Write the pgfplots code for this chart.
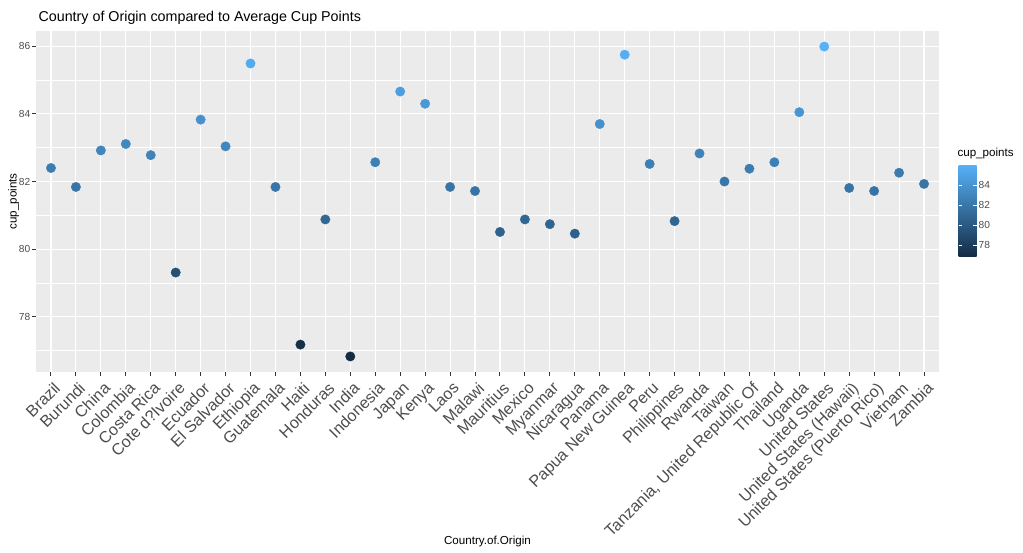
\documentclass[border=0pt]{standalone}
\usepackage{pgfplots}
\pgfplotsset{compat=1.18}
\usepackage{pgfplotstable}
\usepackage{fontspec}
\setmainfont{Liberation Sans}
\pgfkeys{/pgf/number format/assume math mode=true}

\definecolor{panelbg}{HTML}{EBEBEB}
\definecolor{ticklab}{HTML}{4D4D4D}
\definecolor{tickcol}{HTML}{333333}

% average cup points per country (x = category index)
\pgfplotstableread[col sep=comma]{
x,y
0,82.40
1,81.84
2,82.92
3,83.11
4,82.78
5,79.31
6,83.83
7,83.04
8,85.49
9,81.84
10,77.18
11,80.88
12,76.83
13,82.57
14,84.66
15,84.30
16,81.84
17,81.72
18,80.51
19,80.88
20,80.74
21,80.46
22,83.70
23,85.75
24,82.52
25,80.83
26,82.83
27,82.00
28,82.38
29,82.57
30,84.05
31,85.99
32,81.81
33,81.72
34,82.26
35,81.93
}\cupdata

\begin{document}
\begin{tikzpicture}
\path[use as bounding box] (0,0) rectangle (1023pt,-553pt);
\begin{axis}[%
  scale only axis,%
  width=903pt, height=341pt,%
  at={(36pt,-31pt)}, anchor=north west,%
  xmin=-0.6, xmax=35.6,%
  ymin=76.37, ymax=86.45,%
  xtick={0,1,...,35},%
  xticklabels={Brazil,Burundi,China,Colombia,Costa Rica,Cote d?Ivoire,Ecuador,El Salvador,Ethiopia,Guatemala,Haiti,Honduras,India,Indonesia,Japan,Kenya,Laos,Malawi,Mauritius,Mexico,Myanmar,Nicaragua,Panama,Papua New Guinea,Peru,Philippines,Rwanda,Taiwan,{Tanzania, United Republic Of},Thailand,Uganda,United States,United States (Hawaii),United States (Puerto Rico),Vietnam,Zambia},%
  ytick={78,80,82,84,86},%
  minor ytick={77,79,81,83,85},%
  grid=both,%
  major grid style={white, line width=1.1pt},%
  minor grid style={white, line width=0.55pt},%
  axis background/.style={fill=panelbg},%
  axis line style={draw=none},%
  tick style={tickcol, line width=1pt},%
  tick align=outside,%
  major tick length=3.5pt,%
  minor tick length=0pt,%
  xtick pos=bottom, ytick pos=left,%
  xticklabel style={xshift=2pt, yshift=-4pt, rotate=45, anchor=north east, inner sep=1pt, text=ticklab, font=\fontsize{16.2}{18}\selectfont},%
  yticklabel style={text=ticklab, inner sep=2pt, font=\fontsize{10.2}{12}\selectfont},%
  xlabel={Country.of.Origin},%
  ylabel={cup\_points},%
  label style={font=\fontsize{11.6}{13}\selectfont},%
  xlabel style={at={(axis description cs:0.5,-0.4956)}, anchor=center},%
  ylabel style={at={(axis description cs:-0.0249,0.5)}, anchor=center},%
  colormap={gg}{rgb255=(19,43,67) rgb255=(86,177,247)},%
  point meta min=76.83, point meta max=85.99,%
  colorbar right,%
  colorbar/width=18pt,%
  colorbar style={%
    height=92pt,%
    at={(parent axis.north east)}, anchor=north west,%
    xshift=11pt, yshift=-134pt,%
    ytick={78,80,82,84},%
    axis line style={draw=none},%
    tick style={white, line width=0.6pt},%
    tick align=inside,%
    major tick length=3.5pt,%
    ytick pos=both, yticklabel pos=right,%
    yticklabel style={text=ticklab, font=\fontsize{10.2}{12}\selectfont, inner sep=1pt, xshift=1pt},%
  },%
  ]
\addplot[scatter, only marks, mark=*, mark size=4.7pt, point meta=y,
  scatter/use mapped color={draw=mapped color, fill=mapped color}]
  table[x=x, y=y] {\cupdata};
\end{axis}
\node[anchor=base west, font=\fontsize{14.3}{16}\selectfont] at (35pt,-22pt) {Country of Origin compared to Average Cup Points};
\node[anchor=base west, font=\fontsize{11.6}{13}\selectfont] at (954pt,-157pt) {cup\_points};
\end{tikzpicture}
\end{document}
